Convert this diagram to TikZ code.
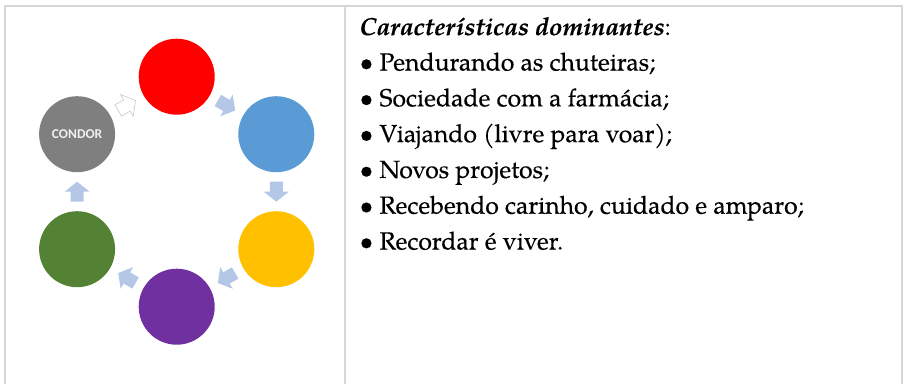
\documentclass[tikz,border=0pt]{standalone}
\usepackage{fontspec}
\setmainfont{TeX Gyre Pagella}[FakeBold=0.3]
\newfontfamily\condorfont{Carlito}
\usetikzlibrary{calc}
\definecolor{framegray}{HTML}{D6D6D6}
\definecolor{cred}{HTML}{FF0000}
\definecolor{cblue}{HTML}{5B9BD5}
\definecolor{cyellow}{HTML}{FFC000}
\definecolor{cpurple}{HTML}{7030A0}
\definecolor{cgreen}{HTML}{548235}
\definecolor{cgray}{HTML}{7F7F7F}
\definecolor{arrowblue}{HTML}{B4C7E7}
\definecolor{outlinegray}{HTML}{C8C8C8}
\tikzset{
  frameline/.style={draw=framegray, line width=2pt},
  phase/.style={circle, inner sep=0pt, minimum size=76pt},
  txtline/.style={anchor=base west, inner sep=0pt, font=\fontsize{24.75}{30}\selectfont},
  blockarrow/.pic={
    \path[pic actions] (-10,-6.5) -- (0,-6.5) -- (0,-12.5) -- (10,0) -- (0,12.5) -- (0,6.5) -- (-10,6.5) -- cycle;
  },
  filledarrow/.style={fill=arrowblue},
  openarrow/.style={fill=white, draw=outlinegray, line width=0.6pt},
}
\begin{document}
\begin{tikzpicture}[x=1pt, y=-1pt]
\useasboundingbox (0,0) rectangle (903,384);
% frame
\draw[frameline] (4,6) -- (903,6);
\draw[frameline] (5,5) -- (5,384);
\draw[frameline] (344.5,6) -- (344.5,384);
\draw[frameline] (902,6) -- (902,384);
% circles
\node[phase, fill=cred]    (red)    at (176.7,76.7)  {};
\node[phase, fill=cblue]   (blue)   at (276.3,134.2) {};
\node[phase, fill=cyellow] (yellow) at (276.3,249.2) {};
\node[phase, fill=cpurple] (purple) at (176.7,306.7) {};
\node[phase, fill=cgreen]  (green)  at (77.1,249.2)  {};
\node[phase, fill=cgray, text=white!94!black, font=\condorfont\bfseries\fontsize{13.5}{16}\selectfont] (gray) at (77.1,134.2) {CONDOR};
% arrows
\path ($(red)!0.5!(blue)$)       pic[rotate=-30, filledarrow] {blockarrow};
\path ($(blue)!0.5!(yellow)$)    pic[rotate=-90, filledarrow] {blockarrow};
\path ($(yellow)!0.5!(purple)$)  pic[rotate=-150, filledarrow] {blockarrow};
\path ($(purple)!0.5!(green)$)   pic[rotate=150, filledarrow] {blockarrow};
\path ($(green)!0.5!(gray)$)     pic[rotate=90, filledarrow] {blockarrow};
\path ($(gray)!0.5!(red)$)       pic[rotate=30, openarrow] {blockarrow};
% text
\node[txtline] (t0) at (359.3,35) {{\bfseries\itshape Características dominantes}:};
\node[txtline] (t1) at (359.3,70.5) {\makebox[20pt][l]{•}Pendurando as chuteiras;};
\node[txtline] (t2) at (359.3,106.3) {\makebox[20pt][l]{•}Sociedade com a farmácia;};
\node[txtline] (t3) at (359.3,142.1) {\makebox[20pt][l]{•}Viajando (livre para voar);};
\node[txtline] (t4) at (359.3,177.9) {\makebox[20pt][l]{•}Novos projetos;};
\node[txtline] (t5) at (359.3,213.7) {\makebox[20pt][l]{•}Recebendo carinho, cuidado e amparo;};
\node[txtline] (t6) at (359.3,249.5) {\makebox[20pt][l]{•}Recordar é viver.};
\end{tikzpicture}
\end{document}
